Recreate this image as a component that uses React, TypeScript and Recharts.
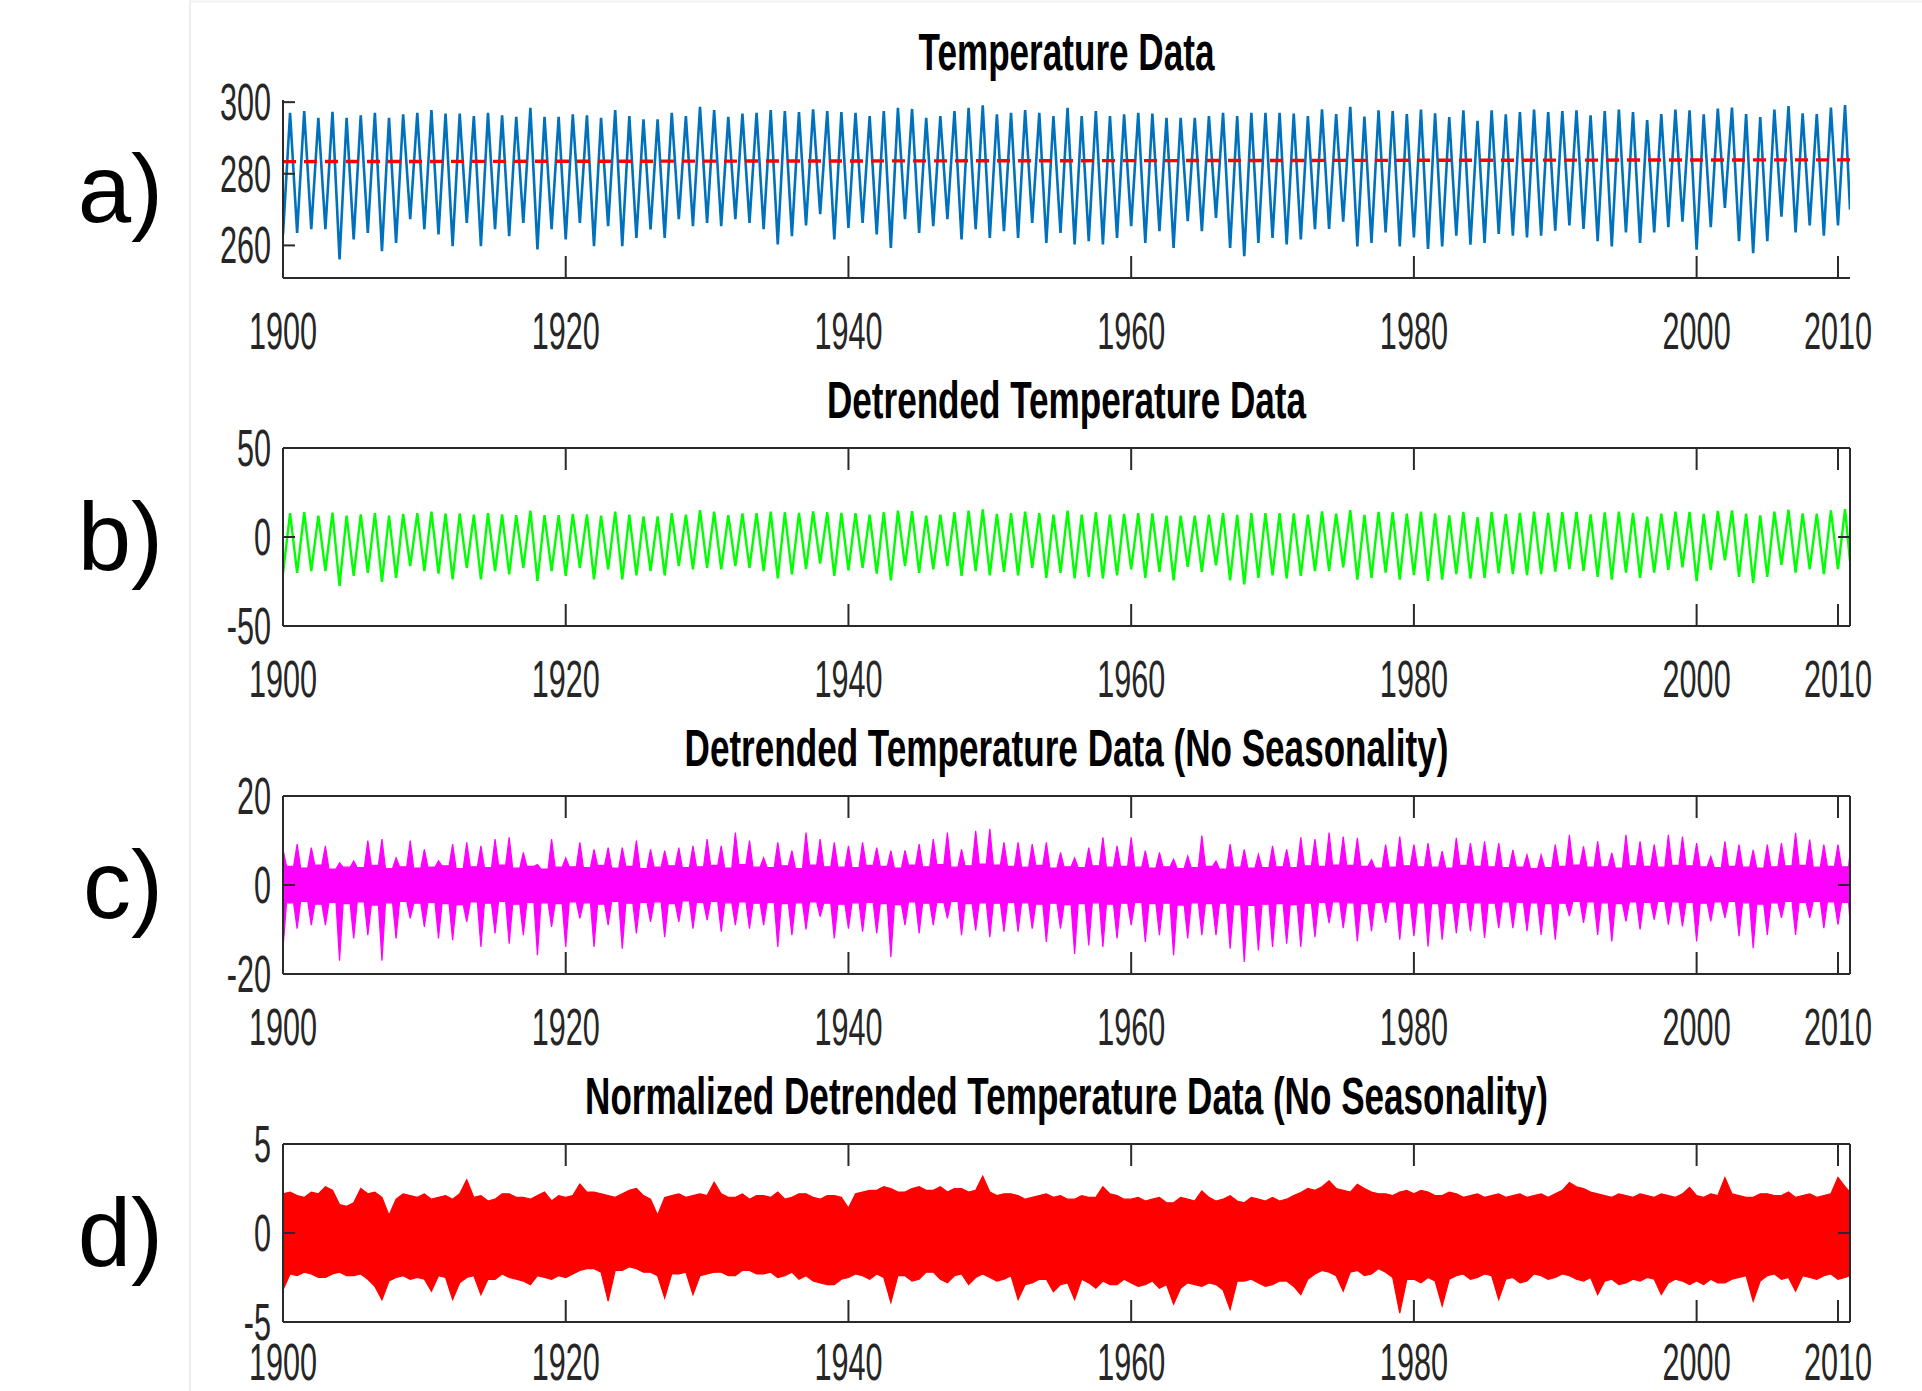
import React from 'react';
import { ComposedChart, Line, Area, XAxis, YAxis, ReferenceLine } from 'recharts';

// ---------------- data ----------------
const years = Array.from({ length: 111 }, (_, i) => 1900 + i); // 1900..2010
const xTickYears = [1900, 1920, 1940, 1960, 1980, 2000, 2010];

// a) temperature (K): winter minima (Jan) and summer maxima (Jul) of each year
const tempJan = [
  263.0, 263.5, 264.5, 264.5, 256.1, 261.7, 263.5, 258.4, 260.7, 267.3,
  264.5, 263.1, 259.8, 266.3, 259.8, 264.5, 262.6, 266.3, 258.9, 264.5,
  261.7, 266.3, 259.8, 265.4, 259.8, 262.1, 264.5, 262.1, 267.3, 265.4,
  266.3, 265.4, 267.3, 266.3, 264.5, 260.3, 262.6, 265.6, 268.7, 261.7,
  264.9, 266.3, 263.1, 259.3, 267.3, 263.5, 265.4, 267.3, 261.7, 264.5,
  262.1, 264.0, 262.1, 266.3, 260.7, 263.5, 260.3, 261.2, 260.3, 262.1,
  265.4, 260.7, 264.0, 259.3, 266.8, 264.0, 267.7, 259.3, 257.0, 260.7,
  262.1, 260.3, 261.7, 264.5, 264.6, 266.6, 259.7, 260.7, 263.6, 259.7,
  262.2, 259.0, 259.7, 262.7, 260.2, 260.7, 263.2, 262.7, 262.2, 262.7,
  264.1, 265.6, 264.6, 261.2, 259.7, 263.6, 260.7, 263.6, 265.1, 266.6,
  258.8, 265.1, 270.5, 261.2, 257.8, 261.2, 268.0, 263.6, 265.6, 262.7,
  265.6,
];
const tempJul = [
  297.0, 297.5, 295.6, 297.3, 295.6, 296.3, 297.0, 295.6, 296.6, 297.0,
  297.8, 296.8, 296.8, 296.1, 297.0, 296.3, 295.9, 298.4, 295.9, 295.9,
  296.6, 296.3, 295.6, 297.8, 296.1, 295.2, 295.2, 297.0, 296.1, 298.7,
  297.8, 295.9, 296.8, 297.0, 297.8, 297.5, 297.2, 298.0, 297.5, 297.2,
  297.0, 296.1, 297.5, 298.4, 298.1, 295.6, 296.1, 297.5, 298.4, 299.1,
  296.6, 297.0, 297.8, 297.0, 296.1, 298.4, 296.1, 297.5, 296.1, 296.6,
  297.0, 296.8, 295.6, 295.6, 295.6, 296.1, 297.0, 296.1, 297.0, 297.0,
  297.0, 296.8, 296.1, 298.0, 296.7, 298.7, 296.0, 297.7, 297.5, 296.7,
  297.9, 296.9, 295.8, 297.7, 294.8, 297.7, 296.6, 297.2, 297.9, 297.2,
  297.5, 297.7, 296.3, 297.5, 297.9, 297.2, 295.0, 296.7, 297.9, 297.7,
  296.6, 298.2, 298.5, 296.7, 295.8, 297.9, 298.9, 296.9, 296.7, 298.5,
  299.2,
];
const tempEnd = 270.0;
const trendStart = 283.4;
const trendEnd = 283.9;
const tempMean = 283.6;

// c) detrended, no seasonality: winter extremes and summer envelope
const cUp = [
  8.0, 9.2, 8.4, 8.8, 5.0, 5.4, 10.0, 10.3, 6.1, 10.0,
  8.0, 5.4, 9.2, 9.6, 8.8, 10.3, 10.7, 7.3, 4.6, 10.3,
  6.1, 9.6, 8.0, 8.4, 8.4, 10.0, 8.0, 7.7, 8.4, 8.8,
  10.3, 8.8, 11.8, 10.0, 6.1, 9.6, 7.7, 11.8, 10.3, 9.6,
  8.8, 9.6, 8.4, 7.7, 7.8, 9.2, 10.3, 11.8, 8.0, 12.2,
  12.6, 9.6, 9.6, 9.2, 9.6, 7.3, 6.1, 8.4, 10.7, 8.8,
  10.7, 7.7, 7.3, 5.8, 6.5, 11.1, 5.4, 9.2, 8.0, 6.9,
  8.8, 8.0, 10.7, 10.3, 11.8, 10.9, 10.6, 5.7, 9.1, 10.9,
  9.1, 9.4, 7.6, 10.6, 9.4, 9.8, 9.4, 7.9, 6.8, 6.8,
  9.1, 11.3, 8.7, 9.8, 7.2, 11.3, 9.8, 9.1, 11.3, 10.9,
  9.4, 6.4, 9.8, 9.1, 7.9, 9.1, 9.4, 11.7, 10.2, 9.1,
  9.1,
];
const cDown = [
  -14.3, -9.8, -9.0, -9.0, -17.0, -12.0, -11.3, -17.0, -12.0, -7.5,
  -9.4, -12.0, -12.4, -8.3, -13.9, -10.9, -13.2, -11.3, -15.8, -9.4,
  -13.9, -7.5, -13.9, -9.0, -14.3, -10.9, -8.3, -11.7, -8.3, -9.8,
  -7.9, -10.5, -9.0, -9.8, -9.0, -13.9, -11.3, -10.0, -7.1, -12.0,
  -9.8, -10.5, -10.9, -16.2, -9.0, -10.9, -9.0, -7.5, -11.3, -10.2,
  -11.7, -10.5, -10.5, -9.8, -12.8, -9.8, -15.5, -13.6, -13.9, -12.0,
  -9.0, -12.8, -11.3, -15.8, -12.0, -11.3, -11.3, -14.3, -17.3, -14.7,
  -13.9, -13.2, -13.9, -11.7, -8.6, -9.7, -12.7, -10.4, -8.5, -12.3,
  -11.5, -13.8, -12.3, -10.8, -10.4, -11.9, -9.7, -9.7, -10.4, -11.2,
  -12.3, -7.0, -8.5, -11.2, -12.7, -8.2, -10.0, -7.8, -8.9, -9.3,
  -12.7, -8.2, -7.4, -11.5, -14.2, -11.2, -7.4, -11.2, -7.4, -9.7,
  -8.9,
];
const cSumHi = [
  4.2, 3.8, 4.5, 3.6, 4.0, 3.9, 4.4, 3.7, 4.1, 3.8,
  4.0, 4.3, 3.7, 4.1, 3.9, 4.5, 3.8, 4.2, 3.6, 4.0,
  4.1, 3.9, 4.4, 3.8, 4.2, 3.7, 4.0, 4.3, 3.9, 4.1,
  4.4, 3.8, 4.6, 4.0, 3.9, 4.3, 3.7, 4.5, 4.1, 4.0,
  3.9, 4.4, 4.2, 3.8, 4.5, 4.1, 4.6, 4.0, 4.3, 4.7,
  4.5, 4.2, 4.0, 4.4, 3.8, 4.1, 3.9, 4.3, 4.0, 4.2,
  4.0, 3.8, 4.1, 3.7, 3.9, 4.2, 3.6, 4.0, 3.8, 3.9,
  4.1, 3.9, 4.3, 4.2, 4.5, 4.4, 4.2, 3.8, 4.0, 4.3,
  4.1, 4.0, 3.8, 4.4, 4.2, 4.1, 3.9, 4.0, 3.7, 3.9,
  4.2, 4.5, 4.0, 4.1, 3.8, 4.3, 4.2, 4.0, 4.4, 4.3,
  4.1, 3.9, 4.2, 4.0, 3.8, 4.1, 4.3, 4.4, 4.0, 4.2,
  4.1,
];
const cSumLo = [
  -4.0, -3.7, -4.3, -3.9, -4.2, -3.8, -4.5, -4.0, -3.7, -4.1,
  -3.9, -4.2, -4.4, -3.8, -4.1, -3.7, -4.3, -3.9, -4.0, -4.2,
  -3.8, -4.0, -4.3, -3.7, -4.1, -3.9, -3.8, -4.2, -3.6, -3.9,
  -3.7, -4.0, -3.8, -4.1, -3.9, -4.2, -4.0, -3.8, -4.1, -4.3,
  -4.0, -3.9, -4.2, -4.4, -3.8, -4.1, -3.9, -3.7, -4.2, -4.0,
  -4.1, -3.9, -4.0, -4.3, -4.1, -4.4, -4.2, -4.0, -4.3, -4.1,
  -3.9, -4.2, -4.1, -4.5, -4.0, -4.2, -4.1, -4.4, -4.6, -4.3,
  -4.2, -4.4, -4.1, -3.9, -3.8, -4.0, -4.2, -3.9, -3.8, -4.1,
  -4.0, -4.2, -4.1, -3.9, -4.0, -4.1, -3.8, -3.9, -4.0, -4.2,
  -4.1, -3.7, -3.8, -4.0, -4.2, -3.8, -3.9, -3.7, -3.8, -3.9,
  -4.1, -3.8, -3.7, -4.0, -4.3, -4.0, -3.7, -3.9, -3.7, -3.8,
  -3.9,
];
const cEndHi = 7.2;
const cEndLo = -8.2;

// d) normalized: band envelope in January and July of each year
const dHiJan = [
  2.2, 2.1, 2.3, 2.6, 1.6, 1.7, 2.2, 2.0, 1.9, 2.1,
  2.2, 2.0, 1.9, 3.0, 2.1, 1.9, 2.2, 2.0, 2.1, 1.8,
  2.0, 2.75, 2.3, 2.1, 2.2, 2.5, 1.9, 2.0, 2.2, 2.1,
  2.1, 2.2, 2.0, 1.9, 2.1, 2.3, 2.0, 2.2, 1.9, 2.1,
  1.4, 2.3, 2.4, 2.5, 2.3, 2.6, 2.4, 2.3, 2.5, 2.4,
  2.3, 2.2, 2.1, 2.0, 2.2, 2.1, 1.9, 2.0, 2.6, 2.1,
  1.9, 1.8, 2.0, 1.7, 1.9, 2.37, 1.8, 2.1, 1.7, 1.9,
  2.0, 1.9, 2.27, 2.4, 2.93, 2.4, 2.74, 2.3, 2.2, 2.3,
  2.2, 2.3, 2.1, 2.2, 2.1, 2.0, 2.2, 2.1, 2.0, 2.2,
  2.2, 2.84, 2.5, 2.2, 2.0, 2.1, 2.2, 2.0, 2.1, 2.2,
  2.1, 2.2, 3.12, 2.1, 2.0, 2.2, 2.1, 2.0, 2.2, 2.1,
  3.12,
];
const dHiJul = [
  2.3, 2.0, 2.2, 2.4, 1.5, 2.5, 2.3, 1.0, 2.2, 2.0,
  1.9, 2.1, 2.2, 2.0, 1.8, 2.2, 2.0, 1.9, 2.3, 2.1,
  2.1, 2.3, 2.2, 2.0, 2.4, 2.1, 1.0, 2.1, 2.0, 2.2,
  2.85, 2.0, 2.2, 2.1, 2.0, 1.9, 2.2, 2.0, 2.1, 2.0,
  2.2, 2.4, 2.6, 2.3, 2.5, 2.4, 2.6, 2.5, 2.3, 3.2,
  2.1, 2.2, 1.9, 2.1, 2.0, 1.9, 2.1, 2.0, 2.2, 1.9,
  2.0, 1.9, 1.7, 2.0, 1.8, 2.0, 1.9, 1.8, 2.0, 1.8,
  1.8, 2.1, 2.5, 2.6, 2.5, 2.3, 2.5, 2.2, 2.1, 2.4,
  2.4, 2.1, 2.3, 2.0, 2.2, 2.1, 2.0, 2.2, 2.1, 2.0,
  2.4, 2.6, 2.3, 2.1, 2.2, 2.0, 2.1, 2.2, 2.0, 2.56,
  2.0, 2.1, 2.2, 2.0, 2.2, 2.1, 2.3, 2.1, 2.0, 2.2,
  2.6,
];
const dLoJan = [
  -3.2, -2.4, -2.3, -2.5, -2.2, -2.4, -2.6, -3.75, -2.5, -2.6,
  -2.6, -2.4, -3.74, -2.5, -3.46, -2.6, -2.5, -2.7, -2.4, -2.6,
  -2.5, -2.1, -2.0, -3.83, -2.1, -2.0, -2.2, -3.65, -2.3, -3.46,
  -2.3, -2.2, -2.4, -2.1, -2.3, -2.5, -2.2, -2.4, -2.8, -2.9,
  -2.5, -2.4, -2.3, -3.9, -2.4, -2.6, -2.2, -2.8, -2.3, -2.5,
  -2.5, -2.6, -3.74, -2.8, -2.6, -2.9, -3.74, -2.8, -2.7, -2.9,
  -2.8, -2.9, -3.1, -4.0, -2.8, -3.0, -2.9, -4.3, -2.7, -2.8,
  -2.9, -2.7, -3.46, -2.3, -2.2, -3.27, -2.1, -2.3, -2.2, -4.5,
  -2.6, -2.5, -4.1, -2.4, -2.6, -2.3, -3.74, -2.5, -2.7, -2.4,
  -2.5, -2.4, -2.7, -3.46, -2.6, -2.8, -2.7, -2.6, -2.8, -2.7,
  -2.7, -2.6, -2.8, -2.5, -3.83, -2.4, -2.6, -3.27, -2.5, -2.4,
  -2.6,
];
const dLoJul = [
  -2.3, -2.2, -2.5, -2.3, -2.4, -2.3, -3.0, -2.7, -2.4, -2.5,
  -3.27, -2.5, -2.8, -2.4, -2.6, -2.3, -2.6, -2.9, -2.5, -2.4,
  -2.3, -2.0, -2.2, -2.1, -1.9, -2.2, -2.4, -2.3, -2.2, -2.4,
  -2.2, -2.4, -2.1, -2.3, -2.2, -2.4, -2.6, -2.7, -2.9, -2.6,
  -2.3, -2.6, -2.5, -2.4, -2.7, -2.2, -2.6, -2.4, -2.9, -2.3,
  -2.7, -2.4, -2.9, -2.6, -3.3, -2.8, -2.6, -3.1, -2.9, -2.6,
  -3.0, -2.7, -2.9, -3.1, -2.9, -2.8, -3.2, -2.7, -2.6, -3.0,
  -2.7, -3.0, -2.6, -2.1, -2.4, -2.2, -2.4, -2.0, -2.5, -2.6,
  -2.8, -2.7, -2.6, -2.3, -2.5, -2.4, -2.6, -2.8, -2.3, -2.6,
  -2.3, -2.6, -2.5, -2.7, -2.9, -2.6, -2.5, -3.46, -2.6, -2.9,
  -2.9, -2.8, -2.6, -2.4, -2.7, -2.3, -2.5, -2.4, -2.6, -2.3,
  -2.5,
];
const dEndHi = 2.3;
const dEndLo = -2.4;

const tempTicks = [260, 280, 300];
const detrTicks = [-50, 0, 50];
const noSeasTicks = [-20, 0, 20];
const normTicks = [-5, 0, 5];

const titles = [
  'Temperature Data',
  'Detrended Temperature Data',
  'Detrended Temperature Data (No Seasonality)',
  'Normalized Detrended Temperature Data (No Seasonality)',
];
const panelLabels = ['a)', 'b)', 'c)', 'd)'];

// ---------------- layout ----------------
const W = 1922;
const H = 1391;
const PLOT_LEFT = 283;
const PLOT_RIGHT = 1850;
const PLOT_W = PLOT_RIGHT - PLOT_LEFT;
const PLOT_TOP = 100;
const PLOT_H = 178;
const CHART_H = 368;
const panelTops = [0, 348, 695.5, 1043.5];
const X_MIN = 1900;
const X_END = 2010.85;
const TICK_V = 22;
const TICK_H = 12;
const AXIS = '#2a2a2a';
const FONT = '"Liberation Sans", Arial, Helvetica, sans-serif';

const BLUE = '#0072BD';
const GREEN = '#00FF00';
const MAGENTA = '#FF00FF';
const RED = '#FF0000';

// ---------------- table rows built from the arrays ----------------
const tempRows: any[] = [];
years.forEach((y, i) => {
  tempRows.push({ t: y, temp: tempJan[i], detr: tempJan[i] - tempMean });
  tempRows.push({ t: y + 0.5, temp: tempJul[i], detr: tempJul[i] - tempMean });
});
tempRows.push({ t: X_END, temp: tempEnd, detr: tempEnd - tempMean });

const cRows: any[] = [];
years.forEach((y, i) => {
  cRows.push({ t: y, c: [cDown[i], cUp[i]] });
  cRows.push({ t: y + 0.25, c: [cSumLo[i], cSumHi[i]] });
  cRows.push({ t: y + 0.75, c: [cSumLo[i], cSumHi[i]] });
});
cRows.push({ t: X_END, c: [cEndLo, cEndHi] });

const dRows: any[] = [];
years.forEach((y, i) => {
  dRows.push({ t: y, d: [dLoJan[i], dHiJan[i]] });
  dRows.push({ t: y + 0.5, d: [dLoJul[i], dHiJul[i]] });
});
dRows.push({ t: X_END, d: [dEndLo, dEndHi] });

// ---------------- ticks ----------------
function makeXTick(boxed: boolean, labelDy: number) {
  return (props: any) => {
    const { x, y, payload } = props;
    return (
      <g>
        <line x1={x} x2={x} y1={y} y2={y - TICK_V} stroke={AXIS} strokeWidth={2} />
        {boxed && (
          <line x1={x} x2={x} y1={y - PLOT_H} y2={y - PLOT_H + TICK_V} stroke={AXIS} strokeWidth={2} />
        )}
        <text
          transform={`translate(${x},${y + labelDy}) scale(0.6,1)`}
          textAnchor="middle"
          fontSize={51}
          fontFamily={FONT}
          fill="#262626"
        >
          {payload.value}
        </text>
      </g>
    );
  };
}

function makeYTick(boxed: boolean) {
  return (props: any) => {
    const { x, y, payload } = props;
    return (
      <g>
        <line x1={x} x2={x + TICK_H} y1={y} y2={y} stroke={AXIS} strokeWidth={2} />
        {boxed && (
          <line x1={x + PLOT_W} x2={x + PLOT_W - TICK_H} y1={y} y2={y} stroke={AXIS} strokeWidth={2} />
        )}
        <text
          transform={`translate(${x - 12},${y + 18}) scale(0.6,1)`}
          textAnchor="end"
          fontSize={51}
          fontFamily={FONT}
          fill="#262626"
        >
          {payload.value}
        </text>
      </g>
    );
  };
}

function Panel(props: {
  top: number;
  rows: any[];
  domain: [number, number];
  yTicks: number[];
  boxed: boolean;
  labelDy?: number;
  children: React.ReactNode;
}) {
  const { top, rows, domain, yTicks, boxed, children } = props;
  const labelDy = props.labelDy ?? 71;
  return (
    <div style={{ position: 'absolute', left: 0, top }}>
      <ComposedChart
        width={W}
        height={CHART_H}
        data={rows}
        margin={{ top: PLOT_TOP, right: W - PLOT_RIGHT, bottom: 0, left: 0 }}
      >
        <XAxis
          type="number"
          dataKey="t"
          domain={[X_MIN, X_END]}
          ticks={xTickYears}
          interval={0}
          allowDataOverflow
          tickSize={0}
          tickMargin={0}
          tickLine={false}
          axisLine={{ stroke: AXIS, strokeWidth: 2 }}
          tick={makeXTick(boxed, labelDy)}
          height={CHART_H - PLOT_TOP - PLOT_H}
        />
        <YAxis
          type="number"
          domain={domain}
          ticks={yTicks}
          interval={0}
          allowDataOverflow
          tickSize={0}
          tickMargin={0}
          tickLine={false}
          axisLine={{ stroke: AXIS, strokeWidth: 2 }}
          tick={makeYTick(boxed)}
          width={PLOT_LEFT}
        />
        {children}
        {boxed && <ReferenceLine y={domain[1]} stroke={AXIS} strokeWidth={2} />}
        {boxed && <ReferenceLine x={X_END} stroke={AXIS} strokeWidth={2} />}
      </ComposedChart>
    </div>
  );
}

export default function App() {
  return (
    <div
      style={{
        position: 'absolute',
        left: 0,
        top: 0,
        width: W,
        height: H,
        overflow: 'hidden',
        background: '#ffffff',
      }}
    >
      <Panel top={panelTops[0]} rows={tempRows} domain={[250.9, 300.6]} yTicks={tempTicks} boxed={false}>
        <Line
          type="linear"
          dataKey="temp"
          stroke={BLUE}
          strokeWidth={2.6}
          dot={false}
          activeDot={false}
          isAnimationActive={false}
        />
        <ReferenceLine
          segment={[
            { x: X_MIN, y: trendStart },
            { x: X_END, y: trendEnd },
          ]}
          stroke={RED}
          strokeWidth={3.4}
          strokeDasharray="13 8"
        />
      </Panel>
      <Panel top={panelTops[1]} rows={tempRows} domain={[-50, 50]} yTicks={detrTicks} boxed>
        <Line
          type="linear"
          dataKey="detr"
          stroke={GREEN}
          strokeWidth={2.4}
          dot={false}
          activeDot={false}
          isAnimationActive={false}
        />
      </Panel>
      <Panel top={panelTops[2]} rows={cRows} domain={[-20, 20]} yTicks={noSeasTicks} boxed>
        <Area
          type="linear"
          dataKey="c"
          stroke={MAGENTA}
          strokeWidth={1.2}
          fill={MAGENTA}
          fillOpacity={1}
          dot={false}
          activeDot={false}
          isAnimationActive={false}
        />
      </Panel>
      <Panel top={panelTops[3]} rows={dRows} domain={[-5, 5]} yTicks={normTicks} boxed labelDy={58}>
        <Area
          type="linear"
          dataKey="d"
          stroke={RED}
          strokeWidth={1.2}
          fill={RED}
          fillOpacity={1}
          dot={false}
          activeDot={false}
          isAnimationActive={false}
        />
      </Panel>
      <svg
        width={W}
        height={H}
        style={{ position: 'absolute', left: 0, top: 0, pointerEvents: 'none' }}
      >
        <line x1={190} y1={0} x2={190} y2={H} stroke="#eeeeee" strokeWidth={2} />
        <line x1={190} y1={1.5} x2={W} y2={1.5} stroke="#f2f2f2" strokeWidth={2} />
        {titles.map((t, i) => (
          <text
            key={t}
            transform={`translate(${(PLOT_LEFT + PLOT_RIGHT) / 2},${panelTops[i] + PLOT_TOP - 30}) scale(0.675,1)`}
            textAnchor="middle"
            fontSize={52}
            fontWeight="bold"
            fontFamily={FONT}
            fill="#000000"
          >
            {t}
          </text>
        ))}
        {panelLabels.map((l, i) => (
          <text
            key={l}
            x={163}
            y={panelTops[i] + PLOT_TOP + 122}
            textAnchor="end"
            fontSize={96}
            fontFamily={FONT}
            fill="#000000"
          >
            {l}
          </text>
        ))}
      </svg>
    </div>
  );
}
